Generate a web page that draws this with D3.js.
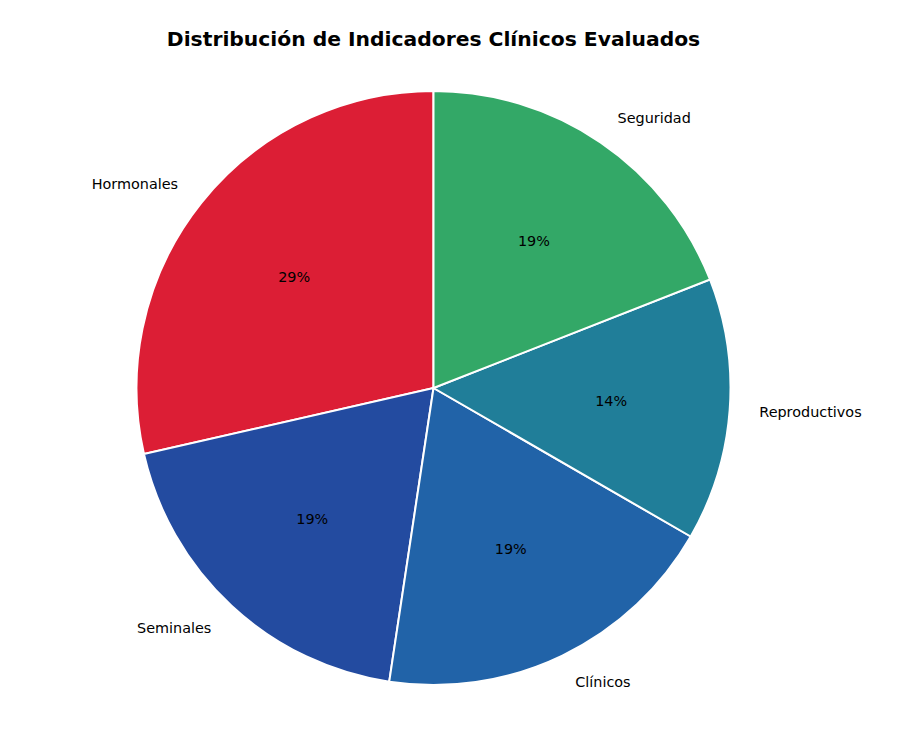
<!DOCTYPE html>
<html>
    <head>
        <meta charset="utf-8" />
        <script src="https://d3js.org/d3.v7.min.js"></script>
        <style>
            body { margin: 0; background: #fff; }
            svg { display: block; font-family: 'DejaVu Sans', sans-serif; }
        </style>
    </head>
    <body>
        <svg width="902" height="729"></svg>
        <script>
            // counts per indicator group (matplotlib order, counter-clockwise from top)
            const categories = ['Hormonales', 'Seminales', 'Clínicos', 'Reproductivos', 'Seguridad']
            const counts = [6, 4, 4, 3, 4]
            const colors = ['#dc1e35', '#234ba0', '#2163a8', '#207e99', '#33a867']

            const cx = 433.5
            const cy = 388
            const r = 297

            const svg = d3.select('svg')

            svg.append('text')
                .attr('x', cx)
                .attr('y', 46)
                .attr('text-anchor', 'middle')
                .style('font-size', '20.3px')
                .style('font-weight', 'bold')
                .text('Distribución de Indicadores Clínicos Evaluados')

            const total = d3.sum(counts)
            const pie = d3.pie()
                .sort(null)
                .startAngle(0)
                .endAngle(-2 * Math.PI)
            const arcs = pie(counts)
            const arc = d3.arc().innerRadius(0).outerRadius(r)

            const g = svg.append('g').attr('transform', `translate(${cx},${cy})`)

            g.selectAll('path')
                .data(arcs)
                .enter()
                .append('path')
                .attr('d', arc)
                .style('fill', (d, i) => colors[i])
                .style('stroke', '#fff')
                .style('stroke-width', '2px')

            const mid = (d) => (d.startAngle + d.endAngle) / 2

            // category labels at 1.1 r
            g.selectAll('text.lbl')
                .data(arcs)
                .enter()
                .append('text')
                .attr('class', 'lbl')
                .attr('x', (d) => Math.sin(mid(d)) * r * 1.1)
                .attr('y', (d) => -Math.cos(mid(d)) * r * 1.1)
                .attr('dy', '0.35em')
                .attr('text-anchor', (d) => (Math.sin(mid(d)) >= 0 ? 'start' : 'end'))
                .style('font-size', '14.4px')
                .text((d, i) => categories[i])

            // percentages at 0.6 r
            g.selectAll('text.pct')
                .data(arcs)
                .enter()
                .append('text')
                .attr('class', 'pct')
                .attr('x', (d) => Math.sin(mid(d)) * r * 0.6)
                .attr('y', (d) => -Math.cos(mid(d)) * r * 0.6)
                .attr('dy', '0.35em')
                .attr('text-anchor', 'middle')
                .style('font-size', '14.4px')
                .text((d) => Math.round((d.value / total) * 100) + '%')
        </script>
    </body>
</html>
